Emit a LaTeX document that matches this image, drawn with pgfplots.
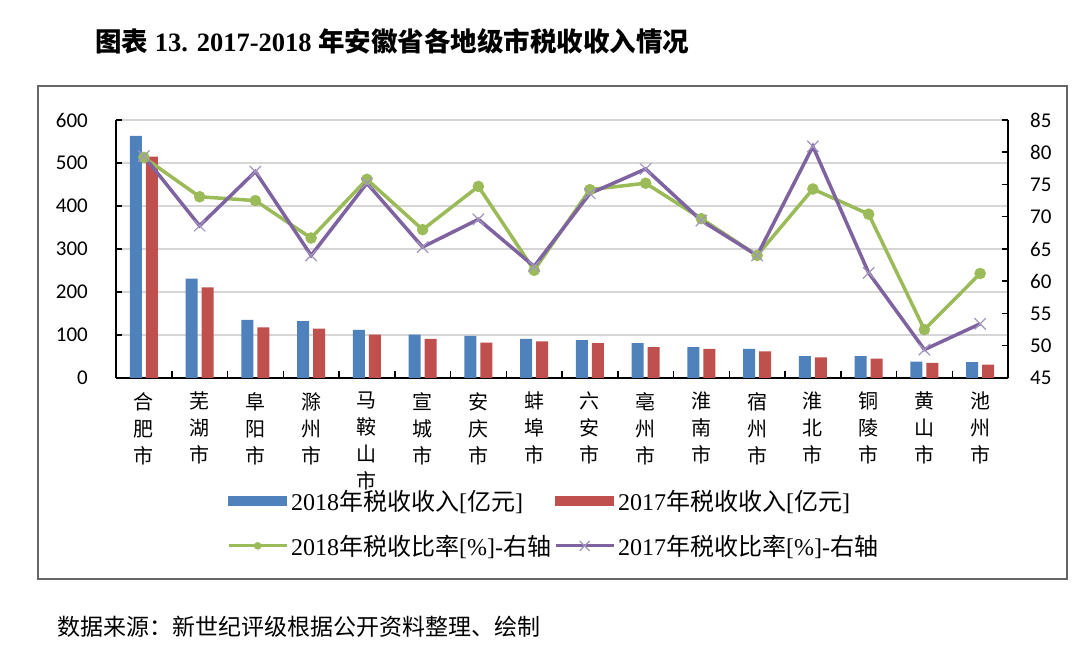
\documentclass[border=0pt]{standalone}
\usepackage{pgfplots}
\pgfplotsset{compat=1.18}
\usepackage{fontspec}
\setmainfont{Liberation Serif}
\newfontfamily\cjk{Noto Sans CJK SC}
\newfontfamily\calfont{Carlito}
\newcommand\C[1]{{\cjk #1}}
\definecolor{cblue}{HTML}{4F81BD}
\definecolor{cred}{HTML}{C0504D}
\definecolor{cgreen}{HTML}{9BBB59}
\definecolor{cpurple}{HTML}{7F63A1}
\definecolor{cpurplex}{HTML}{A295BE}
\pgfplotsset{
  lineleg/.style={legend image code/.code={\draw[##1, line width=3bp, mark size=#1, mark repeat=2, mark phase=2] plot coordinates {(0bp,0bp) (29bp,0bp) (58bp,0bp)};}},
  barleg/.style={legend image code/.code={\fill[#1] (0bp,-4.5bp) rectangle (58bp,4.5bp);}},
}
\begin{document}
\begin{tikzpicture}[x=1bp,y=1bp]
\fill[white] (0,0) rectangle (1080,649);
\node[anchor=west,font=\bfseries\fontsize{26.5bp}{30bp}\selectfont,inner sep=0pt] at (95,608)
  {\C{图表} 13. 2017-2018 \C{年安徽省各地级市税收收入情况}};
\draw[black!60, line width=1.8bp] (38,70) rectangle (1067,563);
\node[anchor=west,font=\cjk\fontsize{23bp}{27bp}\selectfont,inner sep=0pt] at (57,22)
  {数据来源：新世纪评级根据公开资料整理、绘制};

\begin{axis}[
  at={(116bp,271bp)}, anchor=south west, scale only axis,
  width=892bp, height=258bp,
  xmin=-0.5, xmax=15.5, ymin=0, ymax=600,
  axis lines*=left,
  axis line style={line width=1.8bp, black},
  tick align=inside,
  tick style={black, line width=1.5bp},
  major tick length=6bp, minor tick length=7bp,
  ytick={0,100,...,600},
  ymajorgrids, grid style={color=black!16, line width=1.5bp},
  xtick={0,...,15},
  major x tick style={draw=none},
  minor xtick={-0.5,0.5,...,15.5},
  minor x tick style={black, line width=1.5bp},
  xticklabels={{合\\肥\\市},{芜\\湖\\市},{阜\\阳\\市},{滁\\州\\市},{马\\鞍\\山\\市},{宣\\城\\市},{安\\庆\\市},{蚌\\埠\\市},{六\\安\\市},{亳\\州\\市},{淮\\南\\市},{宿\\州\\市},{淮\\北\\市},{铜\\陵\\市},{黄\\山\\市},{池\\州\\市}},
  xticklabel style={font=\cjk\fontsize{20bp}{27bp}\selectfont, align=center, inner sep=0pt, anchor=north, yshift=-14bp},
  yticklabel style={font=\calfont\fontsize{21bp}{25bp}\selectfont, inner sep=0pt, anchor=east, xshift=-28bp},
  /pgf/number format/assume math mode=true,
]
\addplot[ybar, bar width=12bp, bar shift=-8bp, fill=cblue, draw=none] coordinates {
(0,563) (1,231) (2,135) (3,132) (4,112) (5,101) (6,98) (7,91)
(8,88) (9,81) (10,72) (11,68) (12,51) (13,51) (14,38) (15,37)};
\addplot[ybar, bar width=12bp, bar shift=8bp, fill=cred, draw=none] coordinates {
(0,515) (1,211) (2,118) (3,115) (4,101) (5,91) (6,82) (7,85)
(8,81) (9,72) (10,68) (11,62) (12,48) (13,45) (14,35) (15,31)};
\end{axis}

\begin{axis}[
  at={(116bp,271bp)}, anchor=south west, scale only axis,
  width=892bp, height=258bp,
  xmin=-0.5, xmax=15.5, ymin=45, ymax=85,
  axis y line*=right, axis x line=none,
  axis line style={line width=1.8bp, black},
  tick align=inside,
  tick style={black, line width=1.5bp},
  major tick length=6bp,
  xtick=\empty,
  ytick={45,50,...,85},
  yticklabel style={font=\calfont\fontsize{21bp}{25bp}\selectfont, inner sep=0pt, anchor=west, xshift=22bp},
  /pgf/number format/assume math mode=true,
  legend columns=2,
  legend cell align=left,
  legend style={at={(0.1244,-0.4225)}, anchor=north west, draw=none, fill=none,
    inner sep=0pt, row sep=17bp, font=\fontsize{24bp}{28bp}\selectfont,
    nodes={inner sep=3bp},
    /tikz/every even column/.append style={column sep=0bp}},
]
\addlegendimage{barleg=cblue}
\addlegendimage{barleg=cred}
\addplot[cgreen, line width=3.5bp, mark=*, mark size=5.5bp, mark options={fill=cgreen, draw=cgreen, line width=0.5bp}, lineleg=3.5bp]
coordinates {
(0,79.2) (1,73.1) (2,72.5) (3,66.7) (4,75.8) (5,68.0) (6,74.7) (7,61.7)
(8,74.2) (9,75.2) (10,69.7) (11,64.0) (12,74.3) (13,70.4) (14,52.5) (15,61.2)};
\addplot[cpurple, line width=3.5bp, mark=x, mark size=8bp, mark options={draw=cpurplex, line width=1.2bp}, lineleg=7bp]
coordinates {
(0,79.4) (1,68.6) (2,77.0) (3,64.0) (4,75.2) (5,65.3) (6,69.6) (7,62.3)
(8,73.6) (9,77.4) (10,69.4) (11,64.0) (12,80.9) (13,61.3) (14,49.4) (15,53.4)};
\legend{{2018\C{年税收收入}[\C{亿元}]},{2017\C{年税收收入}[\C{亿元}]},{2018\C{年税收比率}[\%]-\C{右轴}},{2017\C{年税收比率}[\%]-\C{右轴}}}
\end{axis}
\end{tikzpicture}
\end{document}
